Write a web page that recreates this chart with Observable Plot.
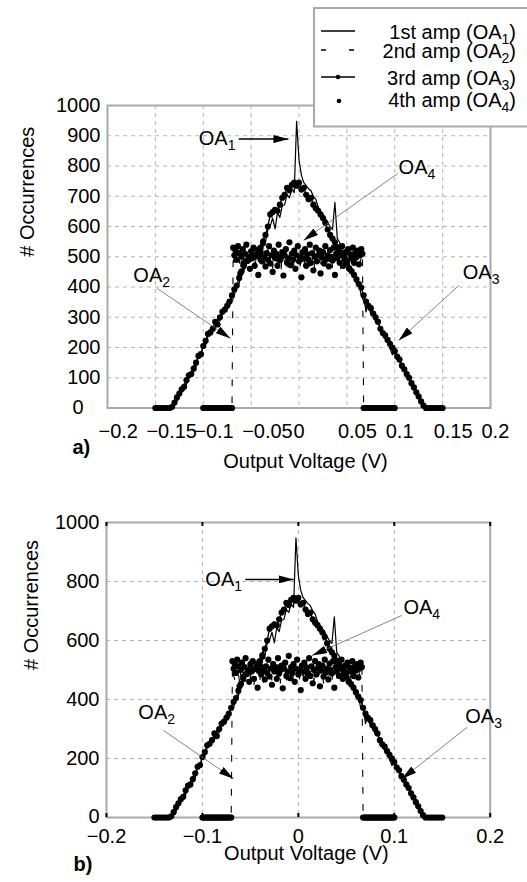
<!DOCTYPE html>
<html><head><meta charset="utf-8">
<script src="https://cdn.jsdelivr.net/npm/d3@7"></script>
<script src="https://cdn.jsdelivr.net/npm/@observablehq/plot@0.6"></script>
<style>
body{margin:0;background:#fff;}
#wrap{position:relative;width:527px;height:882px;overflow:hidden;background:#fff;font-family:"Liberation Sans",Arial,Helvetica,sans-serif;}
#wrap > svg{display:block;}
#legend{position:absolute;left:313px;top:7px;}
</style></head>
<body><div id="wrap"></div>
<script>
// ---------- data ----------
const triStart = -0.15, triStep = 0.0025;
const platStart = -0.1, platStep = 0.00125;

// 1st amp (solid line), bins from -0.15 to 0.15
const oa1 = [0,0,0,0,0,0,0,0,14,22,48,52,80,78,110,112,140,
  135,172,176,205,208,238,245,266,262,296,
  288,320,322,352,335,375,372,408,412,448,
  455,482,478,505,512,508,535,530,562,548,
  590,602,628,592,645,630,668,672,705,695,
  725,712,948,820,770,745,735,725,718,700,
  690,665,650,640,628,612,600,590,680,560,
  548,510,508,482,476,440,438,410,412,372,
  370,318,348,308,312,282,286,258,246,228,
  226,198,176,186,158,158,130,126,100,100,
  72,68,42,40,14,8,0,0,0,0,0,0,0,0];

// 3rd amp (line + dots), bins from -0.15 to 0.15
const oa3 = [0,0,0,0,0,0,0,4,18,35,48,62,70,92,108,112,130,
  150,172,178,205,222,245,250,262,285,276,
  300,318,325,338,352,372,392,405,430,452,
  470,485,490,495,500,505,520,530,550,572,
  600,640,648,655,652,672,695,705,728,720,
  738,745,735,745,722,728,705,690,695,672,
  660,652,640,628,612,590,572,560,548,532,
  520,505,490,478,460,452,440,425,410,398,
  372,352,338,330,312,300,285,262,248,240,
  225,212,200,188,170,160,140,128,112,100,
  82,68,52,38,22,8,0,0,0,0,0,0,0,0];

// 2nd amp (dashed), bins from -0.1 to 0.1
const oa2 = [0,0,0,0,0,0,0,0,0,0,0,0,0,0,0,0,0,0,0,0,0,0,0,0,0,
  512,480,468,505,522,490,455,500,478,515,
  495,462,508,488,530,470,498,515,450,492,
  505,482,520,468,500,490,458,512,485,525,
  476,500,495,462,518,488,505,470,528,492,
  455,510,498,480,520,466,502,490,515,475,
  505,460,495,522,485,500,470,512,492,458,
  508,480,525,495,468,503,488,515,462,500,
  482,518,495,470,510,488,455,505,498,520,
  475,500,512,465,495,485,528,470,505,490,
  460,515,482,500,522,478,495,510,468,500,
  488,515,470,505,492,525,480,498,510,
  0,0,0,0,0,0,0,0,0,0,0,0,0,0,0,0,0,0,0,0,0,0,0,0,0,0,0];

// 4th amp (dots only), bins from -0.1 to 0.1
const oa4 = [0,0,0,0,0,0,0,0,0,0,0,0,0,0,0,0,0,0,0,0,0,0,0,0,0,
  530,505,520,490,535,512,445,500,525,478,
  510,540,488,500,460,518,495,530,470,505,
  522,440,498,515,485,545,500,468,512,490,
  535,478,505,450,520,495,510,470,540,488,
  500,515,438,505,525,480,495,548,472,510,
  490,520,460,505,535,485,500,432,515,495,
  525,470,508,490,540,480,512,455,500,530,
  485,505,520,445,498,515,478,535,492,505,
  468,522,500,488,530,440,510,495,518,480,
  505,535,470,500,515,488,525,462,508,495,
  530,480,512,498,520,475,505,525,510,
  0,0,0,0,0,0,0,0,0,0,0,0,0,0,0,0,0,0,0,0,0,0,0,0,0,0,0];

const legendLabels = ["1st amp (OA_1)", "2nd amp (OA_2)", "3rd amp (OA_3)", "4th amp (OA_4)"];

const xTicksTop = [-0.2, -0.15, -0.1, -0.05, 0, 0.05, 0.1, 0.15, 0.2];
const xLabelsTop = ["\u22120.2", "\u22120.15", "\u22120.1", "\u22120.05", "0", "0.05", "0.1", "0.15", "0.2"];
const yTicksTop = [0, 100, 200, 300, 400, 500, 600, 700, 800, 900, 1000];

const xTicksBottom = [-0.2, -0.1, 0, 0.1, 0.2];
const xLabelsBottom = ["\u22120.2", "\u22120.1", "0", "0.1", "0.2"];
const yTicksBottom = [0, 200, 400, 600, 800, 1000];

// annotations (data units)
const notesTop = [
  {text: "OA_1", x: -0.0663, y: 889, anchor: "end"},
  {text: "OA_4", x: 0.104, y: 795, anchor: "start"},
  {text: "OA_2", x: -0.173, y: 438, anchor: "start"},
  {text: "OA_3", x: 0.171, y: 448, anchor: "start"}
];
const arrowsTop = [
  {x1: -0.063, y1: 889, x2: -0.011, y2: 889, bold: true},
  {x1: 0.103, y1: 775, x2: 0.0047, y2: 554, bold: false},
  {x1: -0.148, y1: 395, x2: -0.0715, y2: 230, bold: false},
  {x1: 0.167, y1: 405, x2: 0.104, y2: 223, bold: false}
];
const notesBottom = [
  {text: "OA_1", x: -0.0587, y: 807, anchor: "end"},
  {text: "OA_4", x: 0.1095, y: 710, anchor: "start"},
  {text: "OA_2", x: -0.1668, y: 354, anchor: "start"},
  {text: "OA_3", x: 0.174, y: 341, anchor: "start"}
];
const arrowsBottom = [
  {x1: -0.0553, y1: 807, x2: -0.0049, y2: 807, bold: true},
  {x1: 0.108, y1: 685, x2: 0.0143, y2: 549, bold: false},
  {x1: -0.1405, y1: 295, x2: -0.0675, y2: 131, bold: false},
  {x1: 0.176, y1: 306, x2: 0.108, y2: 131, bold: false}
];

// ---------- rows ----------
const toRows = (vals, start, step) => vals.map((y, i) => ({x: +(start + i * step).toFixed(5), y}));
const rows1 = toRows(oa1, triStart, triStep);
const rows2 = toRows(oa2, platStart, platStep);
const rows3 = toRows(oa3, triStart, triStep);
const rows4 = toRows(oa4, platStart, platStep);

const FONT = '"Liberation Sans", Arial, Helvetica, sans-serif';

function subscriptify(root) {
  d3.select(root).selectAll("text").each(function() {
    const t = this.textContent;
    const m = t.match(/^(.*)_(\d)(.*)$/);
    if (!m) return;
    while (this.firstChild) this.removeChild(this.firstChild);
    const s = d3.select(this);
    s.append("tspan").text(m[1]);
    s.append("tspan").attr("dy", 5).attr("font-size", "14px").text(m[2]);
    if (m[3]) s.append("tspan").attr("dy", -5).text(m[3]);
  });
}

function addHeads(svg, id) {
  const defs = d3.select(svg).insert("defs", ":first-child");
  defs.append("marker").attr("id", id)
    .attr("viewBox", "0 0 15 8").attr("refX", 15).attr("refY", 4)
    .attr("markerWidth", 15).attr("markerHeight", 8)
    .attr("markerUnits", "userSpaceOnUse").attr("orient", "auto")
    .append("path").attr("d", "M0,0L15,4L0,8Z").attr("fill", "black");
  d3.select(svg).selectAll('g[aria-label="link"] path').attr("marker-end", `url(#${id})`);
}

function makePlot(cfg) {
  const gridOpts = {stroke: "#b4b4b4", strokeOpacity: 1, strokeWidth: 1, strokeDasharray: "4,4"};
  const fmt = d => cfg.xLabels[cfg.xTicks.indexOf(d)];
  const yfmt = d => String(d);
  const innerX = cfg.xTicks.filter(d => d > -0.2 && d < 0.2);
  const innerY = cfg.yTicks.filter(d => d > 0 && d < 1000);
  const marks = [
    Plot.gridX(innerX, gridOpts),
    Plot.gridY(innerY, gridOpts),
    Plot.frame({stroke: "#a9a9a9", strokeWidth: 2}),
    ...cfg.extraMarks,
    Plot.axisX(cfg.xTicks.filter(d => d !== 0), {tickSize: 0, tickPadding: cfg.xPad, tickFormat: fmt,
      textAnchor: cfg.xAnchor, dx: cfg.xLabelDx, label: null}),
    Plot.axisX([0], {tickSize: 0, tickPadding: cfg.xPad, tickFormat: fmt, textAnchor: cfg.xAnchor,
      dx: cfg.xZeroDx, label: null}),
    Plot.axisY(cfg.yTicks.filter(d => d !== 0), {tickSize: 0, tickPadding: 7, tickFormat: yfmt, label: null}),
    Plot.axisY([0], {tickSize: 0, tickPadding: 7, tickFormat: yfmt, dx: cfg.zeroDx, dy: cfg.zeroDy, label: null}),
    // data
    Plot.line(rows2, {x: "x", y: "y", stroke: "black", strokeWidth: 1.1, strokeDasharray: "6,11"}),
    Plot.line(rows1, {x: "x", y: "y", stroke: "black", strokeWidth: 1.2}),
    Plot.line(rows3, {x: "x", y: "y", stroke: "black", strokeWidth: 1.3}),
    Plot.dot(rows3, {x: "x", y: "y", r: 3.1, fill: "black", stroke: null}),
    Plot.dot(rows4, {x: "x", y: "y", r: 3.1, fill: "black", stroke: null}),
    // annotations
    Plot.link(cfg.arrows, {x1: "x1", y1: "y1", x2: "x2", y2: "y2",
      stroke: d => d.bold ? "black" : "#666", strokeWidth: d => d.bold ? 1.5 : 0.8}),
    Plot.text(cfg.notes, {x: "x", y: "y", text: "text", textAnchor: "start",
      filter: d => d.anchor === "start", fontSize: 20, fill: "black"}),
    Plot.text(cfg.notes, {x: "x", y: "y", text: "text", textAnchor: "end",
      filter: d => d.anchor === "end", fontSize: 20, fill: "black"}),
    // titles
    Plot.text(["# Occurrences"], {text: d => d, frameAnchor: "left", rotate: -90, dx: cfg.yLabelDx, fontSize: 20}),
    Plot.text(["Output Voltage (V)"], {text: d => d, frameAnchor: "bottom", dx: cfg.xLabelCx, dy: cfg.xLabelDy, fontSize: 20}),
    Plot.text([cfg.tag], {text: d => d, frameAnchor: "bottom-left", textAnchor: "start", dx: cfg.tagDx, dy: cfg.tagDy, fontSize: 20, fontWeight: "bold"})
  ];
  const svg = Plot.plot({
    width: 527, height: cfg.height,
    marginTop: cfg.mt, marginBottom: cfg.mb, marginLeft: cfg.ml, marginRight: cfg.mr,
    x: {domain: [-0.2, 0.2]},
    y: {domain: [0, 1000]},
    style: {fontFamily: FONT, fontSize: "20px", color: "black", background: "white", overflow: "visible"},
    marks
  });
  subscriptify(svg);
  addHeads(svg, cfg.headId);
  return svg;
}

const wrap = document.getElementById("wrap");

const topSvg = makePlot({
  height: 490, mt: 105, mb: 82.5, ml: 107, mr: 37,
  xTicks: xTicksTop, xLabels: xLabelsTop, yTicks: yTicksTop,
  xPad: 15.5, xAnchor: "start", xLabelDx: -9, xZeroDx: -5.5, zeroDx: -17, zeroDy: 0,
  notes: notesTop, arrows: arrowsTop, extraMarks: [],
  yLabelDx: -80, xLabelCx: 6.5, xLabelDy: 60, tag: "a)", tagDx: -35, tagDy: 45.5,
  headId: "headTop"
});
wrap.appendChild(topSvg);

const frameHB = 295;
const bottomSvg = makePlot({
  height: 392, mt: 32, mb: 65, ml: 106, mr: 37.3,
  xTicks: xTicksBottom, xLabels: xLabelsBottom, yTicks: yTicksBottom,
  xPad: 11, xAnchor: "middle", xLabelDx: 0, xZeroDx: 0, zeroDx: 0, zeroDy: -1,
  notes: notesBottom, arrows: arrowsBottom,
  extraMarks: [
    Plot.tickX(xTicksBottom, {x: d => d, stroke: "black", strokeWidth: 2, insetTop: frameHB - 4}),
    Plot.tickX(xTicksBottom, {x: d => d, stroke: "black", strokeWidth: 2, insetBottom: frameHB - 4})
  ],
  yLabelDx: -75, xLabelCx: 8, xLabelDy: 42.5, tag: "b)", tagDx: -33, tagDy: 53,
  headId: "headBottom"
});
wrap.appendChild(bottomSvg);

// ---------- legend ----------
const leg = d3.create("svg").attr("id", "legend").attr("width", 214).attr("height", 121)
  .style("font-family", FONT);
leg.append("rect").attr("x", 1).attr("y", 1).attr("width", 260).attr("height", 118.5)
  .attr("fill", "white").attr("stroke", "#a9a9a9").attr("stroke-width", 2);
const rowY = [24.5, 43.5, 70.5, 92.5];
const sampleY = [24, 43, 70, 94];
leg.append("line").attr("x1", 8).attr("x2", 42).attr("y1", sampleY[0]).attr("y2", sampleY[0]).attr("stroke", "black").attr("stroke-width", 1.3);
leg.append("line").attr("x1", 8).attr("x2", 42).attr("y1", sampleY[1]).attr("y2", sampleY[1]).attr("stroke", "black").attr("stroke-width", 1.3).attr("stroke-dasharray", "5,23");
leg.append("line").attr("x1", 8).attr("x2", 42).attr("y1", sampleY[2]).attr("y2", sampleY[2]).attr("stroke", "black").attr("stroke-width", 1.3);
leg.append("circle").attr("cx", 25).attr("cy", sampleY[2]).attr("r", 2.3).attr("fill", "black");
leg.append("circle").attr("cx", 26).attr("cy", sampleY[3]).attr("r", 2.3).attr("fill", "black");
legendLabels.forEach((lab, i) => {
  leg.append("text").attr("x", 203).attr("y", rowY[i] + 7.2).attr("text-anchor", "end")
    .attr("font-size", 20).attr("fill", "black").text(lab);
});
subscriptify(leg.node());
wrap.appendChild(leg.node());
</script>
</body></html>
